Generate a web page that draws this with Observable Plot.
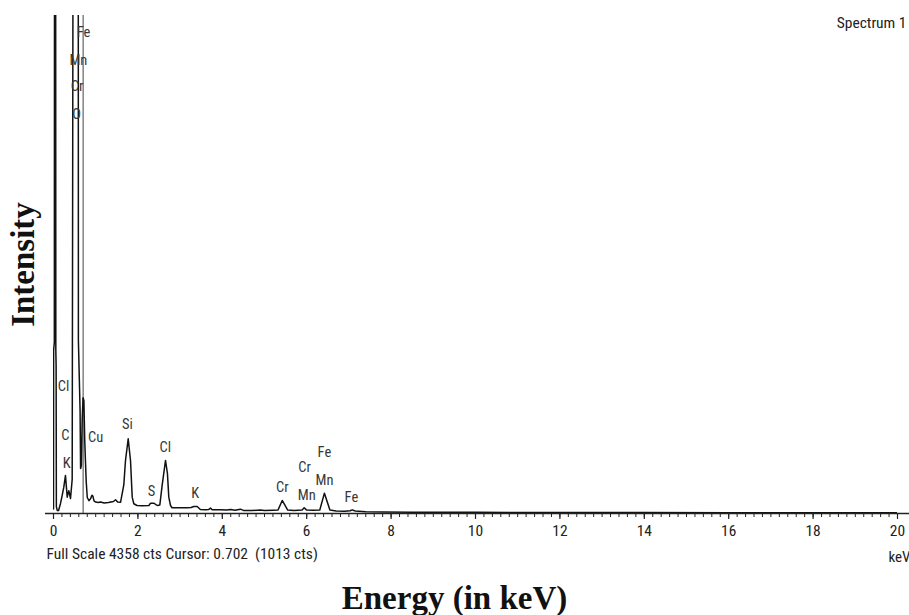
<!DOCTYPE html>
<html><head><meta charset="utf-8">
<script src="https://cdn.jsdelivr.net/npm/d3@7"></script>
<script src="https://cdn.jsdelivr.net/npm/@observablehq/plot@0.6"></script>
<style>body{margin:0;background:#fff;}#chart{width:909px;height:615px;}</style>
</head><body><div id="chart"></div>
<script>
// EDS spectrum: energy (keV) and counts
const energy = [0.000,0.003,0.020,0.025,0.050,0.055,0.062,0.068,0.090,0.120,0.166,0.206,0.244,0.284,0.325,0.363,0.403,0.443,0.467,0.586,0.590,0.630,0.642,0.660,0.680,0.700,0.720,0.740,0.755,0.775,0.800,0.840,0.880,0.912,0.935,0.960,1.000,1.060,1.114,1.200,1.300,1.420,1.470,1.520,1.590,1.666,1.706,1.770,1.825,1.865,1.903,1.980,2.100,2.260,2.300,2.377,2.457,2.520,2.576,2.654,2.700,2.732,2.773,2.810,3.000,3.170,3.260,3.325,3.405,3.480,3.600,3.680,3.720,3.760,3.960,4.100,4.200,4.300,4.430,4.500,4.700,4.900,5.000,5.200,5.320,5.420,5.550,5.700,5.890,5.940,6.000,6.150,6.310,6.420,6.550,6.700,6.900,7.030,7.080,7.150,7.400,7.800,8.500,10.00,12.00,14.00,16.00,18.00,20.00];
const counts = [40,1430,1500,6000,6000,1430,1300,60,26,26,88,158,230,333,143,200,131,300,6000,6000,1514,900,394,420,820,1013,990,640,480,280,140,112,130,160,150,110,100,96,100,92,96,105,120,100,99,250,464,654,464,143,85,70,68,70,90,90,70,75,250,464,350,143,70,50,50,50,52,61,61,35,32,36,47,33,32,30,34,28,38,27,26,30,26,28,30,114,30,26,30,50,30,28,30,178,30,22,20,24,32,22,16,14,12,10,9,8,7,7,6];

// Element labels
const peakNames  = ["Fe","Mn","Cr","O","Cl","C","K","Cu","Si","S","Cl","K","Cr","Mn","Cr","Fe","Mn","Fe"];
const peakEnergy = [0.71,0.59,0.56,0.55,0.24,0.28,0.31,1.00,1.75,2.32,2.65,3.36,5.42,6.00,5.95,6.42,6.42,7.06];
const peakCounts = [4209,3964,3737,3492,1111,683,438,665,779,193,578,175,228,158,403,534,289,143];

const majorTicks = [0,2,4,6,8,10,12,14,16,18,20];
const minorTicks = d3.range(0, 20.001, 0.2);
const fullScale = 4358;
const cursorKeV = 0.702;
const cursorCounts = 1013;

const spectrum = energy.map((e, i) => ({e, c: counts[i]}));
const narrow = "'Liberation Sans Narrow','Arial Narrow','Roboto Condensed','DejaVu Sans Condensed','Liberation Sans',sans-serif";
const serif = "'Liberation Serif','Times New Roman',serif";

const chart = Plot.plot({
  width: 909, height: 615,
  marginTop: 15, marginBottom: 102, marginLeft: 53, marginRight: 12,
  style: {fontFamily: narrow, fontSize: "15px", color: "#222", background: "#fff", overflow: "visible"},
  x: {domain: [0, 20]},
  y: {domain: [0, fullScale], axis: null},
  marks: [
    Plot.ruleX([cursorKeV], {stroke: "#444", strokeWidth: 1}),
    Plot.line(spectrum, {x: "e", y: "c", stroke: "#111", strokeWidth: 1.5, clip: true}),
    Plot.ruleY([0], {stroke: "#222", strokeWidth: 1.4, insetLeft: -8, insetRight: -12}),
    Plot.axisX({ticks: minorTicks, tickSize: 4, tickFormat: () => "", label: null, strokeWidth: 1}),
    Plot.axisX({ticks: majorTicks, tickSize: 6, tickPadding: 5, label: null, fontSize: 15.5, strokeWidth: 1.2}),
    Plot.text(peakNames, {x: peakEnergy, y: peakCounts, text: d => d, fill: "#383838", fontSize: 14.5}),
    Plot.text(["Spectrum 1"], {frameAnchor: "top-right", dx: 9, dy: 8, textAnchor: "end", lineAnchor: "middle", fontSize: 15.5, fill: "#222"}),
    Plot.text([`Full Scale ${fullScale} cts Cursor: ${cursorKeV}  (${cursorCounts} cts)`], {frameAnchor: "bottom-left", dx: -7, dy: 41, textAnchor: "start", lineAnchor: "middle", fontSize: 15.5, fill: "#222"}),
    Plot.text(["keV"], {frameAnchor: "bottom-right", dx: 13, dy: 44, textAnchor: "end", lineAnchor: "middle", fontSize: 15, fill: "#222"}),
    Plot.text(["Energy (in keV)"], {frameAnchor: "bottom", dx: -21, dy: 95, lineAnchor: "bottom", fontFamily: serif, fontWeight: "bold", fontSize: 33, fill: "#111"}),
    Plot.text(["Intensity"], {frameAnchor: "left", dx: -30, rotate: -90, textAnchor: "middle", lineAnchor: "middle", fontFamily: serif, fontWeight: "bold", fontSize: 33, fill: "#111"})
  ]
});
document.getElementById("chart").appendChild(chart);
</script>
</body></html>
